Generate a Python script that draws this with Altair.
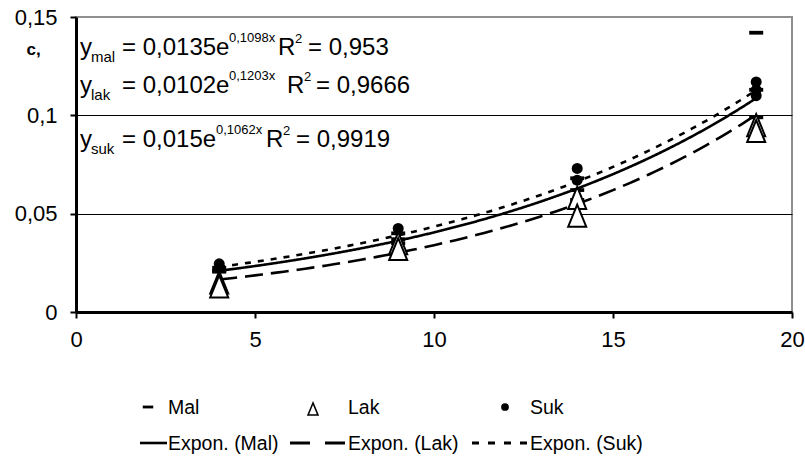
import altair as alt
import pandas as pd
import numpy as np

FONT = "Liberation Sans"

# ---- data ----
mal_x = [4, 4, 4, 9, 9, 9, 14, 14, 14, 19, 19, 19]
mal_y = [0.0225, 0.021, 0.0205, 0.040, 0.037, 0.035, 0.068, 0.062, 0.057, 0.142, 0.113, 0.099]
lak_x = [4, 4, 9, 9, 14, 14, 19, 19]
lak_y = [0.015, 0.013, 0.035, 0.032, 0.058, 0.049, 0.095, 0.092]
suk_x = [4, 9, 14, 14, 19, 19, 19]
suk_y = [0.0245, 0.0425, 0.073, 0.067, 0.117, 0.113, 0.110]

# trendline coefficients shown on the chart: y = a * e^(b x)
series = ["Mal", "Lak", "Suk"]
coef_a = [0.0135, 0.0102, 0.015]
coef_b = [0.1098, 0.1203, 0.1062]
trend_x = list(np.linspace(4, 19, 76))

y_ticks = [0, 0.05, 0.1, 0.15]
x_ticks = [0, 5, 10, 15, 20]

# ---- tables ----
pts = pd.DataFrame(
    {"x": mal_x + lak_x + suk_x,
     "y": mal_y + lak_y + suk_y,
     "s": ["Mal"] * len(mal_x) + ["Lak"] * len(lak_x) + ["Suk"] * len(suk_x)}
)
rows = []
for s, a, b in zip(series, coef_a, coef_b):
    for xv in trend_x:
        rows.append({"s": s, "x": float(xv), "a": a, "b": b})
trend = pd.DataFrame(rows)

L, T = 76, 17
W, H = 716, 295

xs = alt.Scale(domain=[0, 20], nice=False)
ys = alt.Scale(domain=[0, 0.15], nice=False)

x_axis = alt.Axis(values=x_ticks, grid=False, title=None, labelFontSize=22, labelFont=FONT,
                  labelColor="black", domainColor="black", domainWidth=3, tickColor="black",
                  tickWidth=2, tickSize=6, labelPadding=11, labelFlush=False)
y_axis = alt.Axis(values=y_ticks, title="c,", titleAngle=0, titleAlign="left",
                  titleBaseline="alphabetic", titleX=-50, titleY=37, titleFontSize=17,
                  titleFont=FONT, titleFontWeight="bold", titleColor="black",
                  labelFontSize=22, labelFont=FONT, labelColor="black",
                  labelExpr="replace(toString(datum.value), '.', ',')",
                  domainColor="black", domainWidth=3, tickColor="black", tickWidth=2,
                  tickSize=6, labelPadding=13,
                  grid=True, gridWidth=1,
                  gridColor=alt.condition("datum.value > 0.12 || datum.value < 0.01",
                                          alt.value("transparent"), alt.value("black")))

base = alt.Chart(pts)

axes_layer = base.mark_point(opacity=0).encode(
    x=alt.X("x:Q", scale=xs, axis=x_axis),
    y=alt.Y("y:Q", scale=ys, axis=y_axis),
)

trend_layer = alt.Chart(trend).transform_calculate(
    yv="datum.a * exp(datum.b * datum.x)"
).mark_line(color="black", strokeWidth=2.6, clip=True).encode(
    x=alt.X("x:Q", scale=xs),
    y=alt.Y("yv:Q", scale=ys),
    detail="s:N",
    strokeDash=alt.StrokeDash("s:N", scale=alt.Scale(domain=series,
                              range=[[1, 0], [18, 8], [6, 7]]), legend=None),
)

DASH = "M-1,-0.27H1V0.27H-1Z"
TRI = "M0,-1L0.82,1L-0.82,1Z"

mal_layer = base.transform_filter("datum.s == 'Mal'").mark_point(
    shape=DASH, filled=True, color="black", size=196, opacity=1).encode(
    x=alt.X("x:Q", scale=xs), y=alt.Y("y:Q", scale=ys))
lak_layer = base.transform_filter("datum.s == 'Lak'").mark_point(
    shape=TRI, filled=False, fill="white", fillOpacity=1, stroke="black", strokeWidth=2,
    size=484, opacity=1).encode(
    x=alt.X("x:Q", scale=xs), y=alt.Y("y:Q", scale=ys))
suk_layer = base.transform_filter("datum.s == 'Suk'").mark_point(
    shape="circle", filled=True, color="black", size=121, opacity=1).encode(
    x=alt.X("x:Q", scale=xs), y=alt.Y("y:Q", scale=ys))


def txt(s, x, y, size, weight="normal"):
    return alt.Chart(pd.DataFrame({"t": [s]})).mark_text(
        align="left", baseline="alphabetic", fontSize=size, font=FONT,
        fontWeight=weight, color="black").encode(
        x=alt.value(x - L), y=alt.value(y - T), text="t:N")


BIG, SUB, SUP = 24, 15, 13
eq = [
    txt("y", 80, 55, BIG), txt("mal", 91, 62, SUB), txt("= 0,0135e", 122, 55, BIG),
    txt("0,1098x", 229, 42, SUP), txt("R", 278, 55, BIG), txt("2", 295, 43, SUP),
    txt("= 0,953", 308, 55, BIG),
    txt("y", 80, 93, BIG), txt("lak", 91, 100, SUB), txt("= 0,0102e", 122, 93, BIG),
    txt("0,1203x", 229, 80, SUP), txt("R", 287, 93, BIG), txt("2", 304, 81, SUP),
    txt("= 0,9666", 316, 93, BIG),
    txt("y", 80, 147, BIG), txt("suk", 91, 154, SUB), txt("= 0,015e", 122, 147, BIG),
    txt("0,1062x", 216, 134, SUP), txt("R", 266, 147, BIG), txt("2", 283, 135, SUP),
    txt("= 0,9919", 296, 147, BIG),
]

# ---- legend ----
LEG = 19.5
one = pd.DataFrame({"k": [0]})
leg = [
    alt.Chart(one).mark_point(shape=DASH, filled=True, color="black", size=110, opacity=1)
    .encode(x=alt.value(148 - L), y=alt.value(407 - T)),
    txt("Mal", 168, 414, LEG),
    alt.Chart(one).mark_point(shape=TRI, filled=False, fill="white", fillOpacity=1,
                              stroke="black", strokeWidth=1.5, size=150, opacity=1)
    .encode(x=alt.value(313 - L), y=alt.value(409 - T)),
    txt("Lak", 348, 414, LEG),
    alt.Chart(one).mark_point(shape="circle", filled=True, color="black", size=60, opacity=1)
    .encode(x=alt.value(505 - L), y=alt.value(407 - T)),
    txt("Suk", 530, 414, LEG),
    alt.Chart(one).mark_rule(color="black", strokeWidth=2.6)
    .encode(x=alt.value(140 - L), x2=alt.value(167 - L), y=alt.value(443 - T)),
    txt("Expon. (Mal)", 168, 450, LEG),
    alt.Chart(one).mark_rule(color="black", strokeWidth=3, strokeDash=[20, 15])
    .encode(x=alt.value(290 - L), x2=alt.value(347 - L), y=alt.value(443 - T)),
    txt("Expon. (Lak)", 348, 450, LEG),
    alt.Chart(one).mark_rule(color="black", strokeWidth=3, strokeDash=[7, 9])
    .encode(x=alt.value(472 - L), x2=alt.value(530 - L), y=alt.value(443 - T)),
    txt("Expon. (Suk)", 530, 450, LEG),
]

chart = alt.layer(axes_layer, trend_layer, mal_layer, lak_layer, suk_layer, *eq, *leg).properties(
    width=W, height=H,
    autosize=alt.AutoSizeParams(type="none"),
    padding={"left": L, "top": T, "right": 805 - L - W, "bottom": 465 - T - H},
    background="white",
).configure_view(stroke="#8f8f8f", strokeWidth=2)

chart.save("out.html", embed_options={"renderer": "svg", "actions": False})
